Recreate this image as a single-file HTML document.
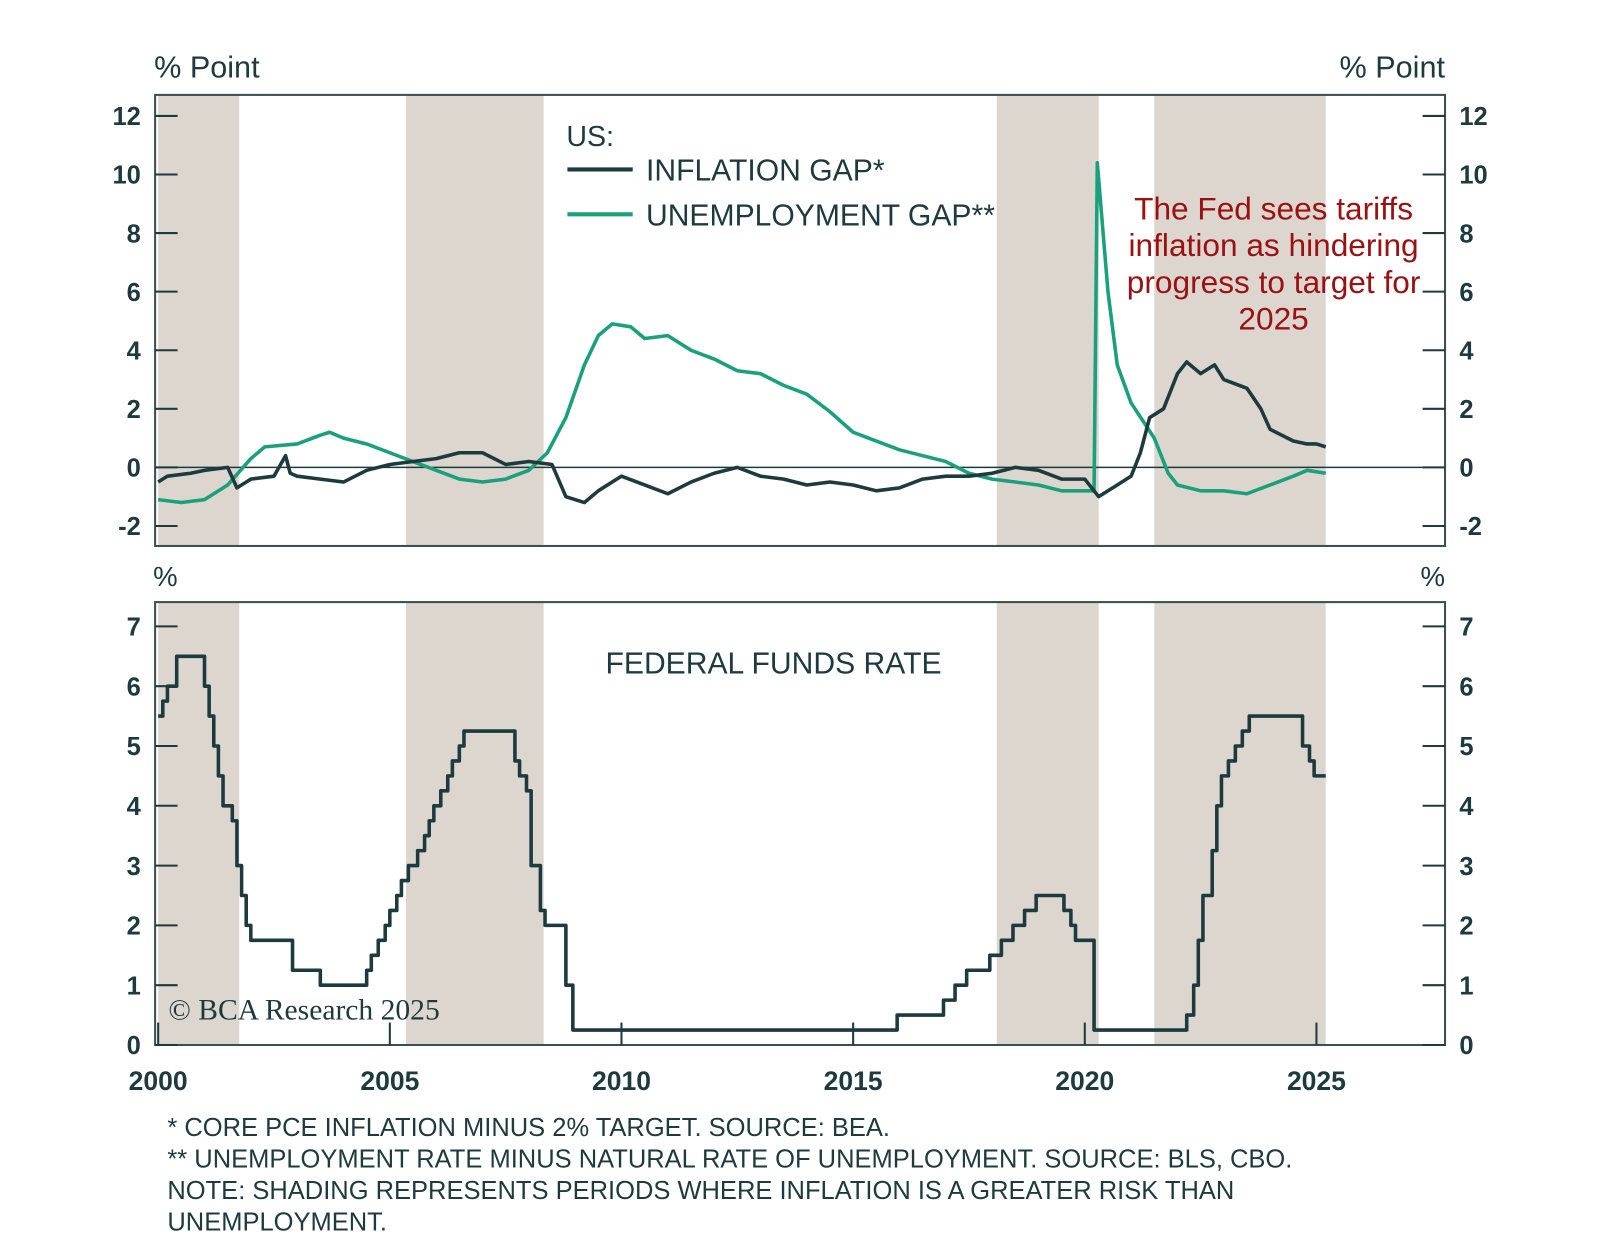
<!DOCTYPE html>
<html><head><meta charset="utf-8"><style>
body{margin:0;background:#fff;width:1600px;height:1247px;overflow:hidden}
svg text{font-family:"Liberation Sans",sans-serif;fill:#1d3a3f}
</style></head><body>
<svg width="1600" height="1247"><g id="c" transform="scale(1.0205)"></g></svg>
<script>
const shadePeriods=[[2000,2001.75],[2005.35,2008.32],[2018.1,2020.3],[2021.5,2025.2]];
const inflYears=[2000,2000.2,2000.7,2001,2001.5,2001.7,2002,2002.5,2002.75,2002.85,2003,2003.5,2004,2004.5,2005,2005.5,2006,2006.5,2007,2007.5,2008,2008.5,2008.8,2009.2,2009.5,2010,2010.5,2011,2011.5,2012,2012.5,2013,2013.5,2014,2014.5,2015,2015.5,2016,2016.5,2017,2017.5,2018,2018.5,2019,2019.5,2020,2020.3,2020.7,2021,2021.2,2021.4,2021.7,2022,2022.2,2022.5,2022.8,2023,2023.5,2023.8,2024,2024.5,2024.8,2025,2025.2];
const inflGap=[-0.5,-0.3,-0.2,-0.1,0,-0.7,-0.4,-0.3,0.4,-0.2,-0.3,-0.4,-0.5,-0.1,0.1,0.2,0.3,0.5,0.5,0.1,0.2,0.1,-1.0,-1.2,-0.8,-0.3,-0.6,-0.9,-0.5,-0.2,0,-0.3,-0.4,-0.6,-0.5,-0.6,-0.8,-0.7,-0.4,-0.3,-0.3,-0.2,0,-0.1,-0.4,-0.4,-1.0,-0.6,-0.3,0.5,1.7,2.0,3.2,3.6,3.2,3.5,3.0,2.7,2.0,1.3,0.9,0.8,0.8,0.7];
const unempYears=[2000,2000.5,2001,2001.5,2002,2002.3,2003,2003.5,2003.7,2004,2004.5,2005,2005.5,2006,2006.5,2007,2007.5,2008,2008.4,2008.8,2009.2,2009.5,2009.8,2010.2,2010.5,2011,2011.5,2012,2012.5,2013,2013.5,2014,2014.5,2015,2015.5,2016,2016.5,2017,2017.5,2018,2018.5,2019,2019.5,2020.2,2020.27,2020.5,2020.7,2021,2021.5,2021.8,2022,2022.5,2023,2023.5,2024,2024.5,2024.8,2025.2];
const unempGap=[-1.1,-1.2,-1.1,-0.6,0.3,0.7,0.8,1.1,1.2,1.0,0.8,0.5,0.2,-0.1,-0.4,-0.5,-0.4,-0.1,0.5,1.7,3.5,4.5,4.9,4.8,4.4,4.5,4.0,3.7,3.3,3.2,2.8,2.5,1.9,1.2,0.9,0.6,0.4,0.2,-0.2,-0.4,-0.5,-0.6,-0.8,-0.8,10.4,6,3.5,2.2,1.0,-0.2,-0.6,-0.8,-0.8,-0.9,-0.6,-0.3,-0.1,-0.2];
const ffYears=[2000,2000.1,2000.2,2000.4,2001,2001.1,2001.2,2001.3,2001.4,2001.6,2001.7,2001.8,2001.9,2002,2002.9,2003.5,2004.5,2004.6,2004.75,2004.9,2005,2005.15,2005.25,2005.4,2005.6,2005.75,2005.85,2005.95,2006.1,2006.25,2006.35,2006.5,2006.6,2007.7,2007.8,2007.95,2008.05,2008.25,2008.35,2008.8,2008.95,2015.95,2016.95,2017.2,2017.45,2017.95,2018.2,2018.45,2018.7,2018.95,2019.55,2019.7,2019.8,2020.2,2022.2,2022.35,2022.45,2022.55,2022.75,2022.85,2022.95,2023.1,2023.25,2023.4,2023.55,2024.7,2024.85,2024.95,2025.2];
const ffRate=[5.5,5.75,6.0,6.5,6.0,5.5,5.0,4.5,4.0,3.75,3.0,2.5,2.0,1.75,1.25,1.0,1.25,1.5,1.75,2.0,2.25,2.5,2.75,3.0,3.25,3.5,3.75,4.0,4.25,4.5,4.75,5.0,5.25,4.75,4.5,4.25,3.0,2.25,2.0,1.0,0.25,0.5,0.75,1.0,1.25,1.5,1.75,2.0,2.25,2.5,2.25,2.0,1.75,0.25,0.5,1.0,1.75,2.5,3.25,4.0,4.5,4.75,5.0,5.25,5.5,5.0,4.75,4.5,4.5];
const topTicks=[-2,0,2,4,6,8,10,12];
const botTicks=[0,1,2,3,4,5,6,7];
const yearTicks=[2000,2005,2010,2015,2020,2025];

const NS="http://www.w3.org/2000/svg",svg=document.getElementById('c');
const X=y=>155+(y-2000)*45.4;
const YT=v=>458-v*28.7;
const YB=v=>1024-v*58.6;
function mk(t,a,p){const e=document.createElementNS(NS,t);for(const k in a)e.setAttribute(k,a[k]);(p||svg).appendChild(e);return e;}
const L=152,R=1416;
shadePeriods.forEach(([a,b])=>{
 const r1=mk('rect',{x:Math.max(L,X(a)),y:93,width:X(b)-Math.max(L,X(a)),height:442,fill:'#dcd6cf'});
 
 const r2=mk('rect',{x:Math.max(L,X(a)),y:590,width:X(b)-Math.max(L,X(a)),height:434,fill:'#dcd6cf'});
 
});
[[93,535],[590,1024]].forEach(([t,b])=>{const f=mk('rect',{x:L,y:t,width:R-L,height:b-t,fill:'none',stroke:'#3a4f53','stroke-width':2});});
topTicks.forEach(v=>{const y=YT(v);
 mk('line',{x1:L,x2:L+22,y1:y,y2:y,stroke:'#1d3a3f','stroke-width':2});mk('line',{x1:R-22,x2:R,y1:y,y2:y,stroke:'#1d3a3f','stroke-width':2});
 const t1=mk('text',{x:138,y:y+9,'text-anchor':'end','font-size':25,'font-weight':'bold'});t1.textContent=v;
 const t2=mk('text',{x:1430,y:y+9,'font-size':25,'font-weight':'bold'});t2.textContent=v;});
botTicks.forEach(v=>{const y=YB(v);
 mk('line',{x1:L,x2:L+22,y1:y,y2:y,stroke:'#1d3a3f','stroke-width':2});mk('line',{x1:R-22,x2:R,y1:y,y2:y,stroke:'#1d3a3f','stroke-width':2});
 const t1=mk('text',{x:138,y:y+9,'text-anchor':'end','font-size':25,'font-weight':'bold'});t1.textContent=v;
 const t2=mk('text',{x:1430,y:y+9,'font-size':25,'font-weight':'bold'});t2.textContent=v;});
yearTicks.forEach(yr=>{const x=X(yr);
 mk('line',{x1:x,x2:x,y1:1002,y2:1024,stroke:'#1d3a3f','stroke-width':2});
 const t=mk('text',{x:x,y:1068,'text-anchor':'middle','font-size':26,'font-weight':'bold'});t.textContent=yr;});
mk('line',{x1:L,x2:R,y1:YT(0),y2:YT(0),stroke:'#1d3a3f','stroke-width':1.5});
function line(xs,ys,yf,col,name,step){let d='';xs.forEach((x,i)=>{const px=X(x),py=yf(ys[i]);if(i==0)d='M'+px+' '+py;else if(step)d+=' H'+px+' V'+py;else d+=' L'+px+' '+py;});
 const p=mk('path',{d:d,fill:'none',stroke:col,'stroke-width':3.5,'stroke-linejoin':'round'});}
line(unempYears,unempGap,YT,'#1aa07c','unemployment-gap-line');
line(inflYears,inflGap,YT,'#1d3a3f','inflation-gap-line');
line(ffYears,ffRate,YB,'#1d3a3f','fed-funds-line',true);
function txt(x,y,s,str,name,extra){const t=mk('text',Object.assign({x:x,y:y,'font-size':s},extra||{}));t.textContent=str;return t;}
txt(151,76,30,'% Point','left-axis-title');
txt(1416,76,30,'% Point','right-axis-title',{'text-anchor':'end'});
txt(150,574,27,'%','left-axis-title-bottom');
txt(1416,574,27,'%','right-axis-title-bottom',{'text-anchor':'end'});
txt(555,143,28,'US:','legend-title');
mk('line',{x1:556,x2:620,y1:166,y2:166,stroke:'#1d3a3f','stroke-width':4});
txt(633,177,29.5,'INFLATION GAP*','legend-inflation');
mk('line',{x1:556,x2:620,y1:210,y2:210,stroke:'#1aa07c','stroke-width':4});
txt(633,221,29.5,'UNEMPLOYMENT GAP**','legend-unemployment');
['The Fed sees tariffs','inflation as hindering','progress to target for','2025'].forEach((s,i)=>txt(1248,215+i*36,31,s,'annotation',{'text-anchor':'middle',style:'fill:#9b1111'}));
txt(758,660,29.5,'FEDERAL FUNDS RATE','panel-title',{'text-anchor':'middle'});
txt(165,999,29,'© BCA Research 2025','watermark',{style:'font-family:Liberation Serif,serif;fill:#1d3a3f'});
['* CORE PCE INFLATION MINUS 2% TARGET. SOURCE: BEA.','** UNEMPLOYMENT RATE MINUS NATURAL RATE OF UNEMPLOYMENT. SOURCE: BLS, CBO.','NOTE: SHADING REPRESENTS PERIODS WHERE INFLATION IS A GREATER RISK THAN','UNEMPLOYMENT.'].forEach((s,i)=>txt(164,1113+i*31,25,s,'footnote'));
</script>
</body></html>
